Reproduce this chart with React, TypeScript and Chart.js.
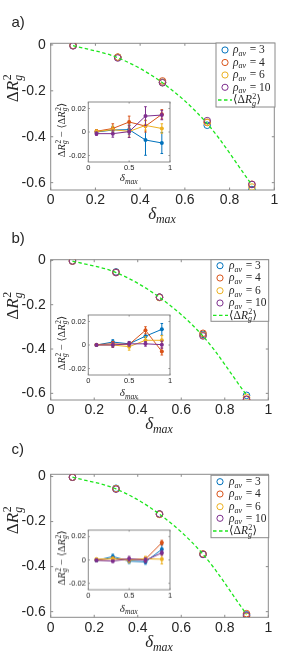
import React, { useEffect, useRef } from "react";
import { Chart, registerables } from "chart.js";
Chart.register(...registerables);

// ---------------- data ----------------
const deltaMax = [0.1, 0.3, 0.5, 0.7, 0.9];
const rhoLabels = ["3", "4", "6", "10"];

const mainXTicks = [0, 0.2, 0.4, 0.6, 0.8, 1];
const mainXTickLabels = ["0", "0.2", "0.4", "0.6", "0.8", "1"];
const mainYTicks = [-0.6, -0.4, -0.2, 0];
const mainYTickLabels = ["-0.6", "-0.4", "-0.2", "0"];
const insetXTicks = [0, 0.5, 1];
const insetXTickLabels = ["0", "0.5", "1"];
const insetYTicks = [-0.02, 0, 0.02];
const insetYTickLabels = ["-0.02", "0", "0.02"];

// panel a
const meanA = [-0.003, -0.056, -0.165, -0.343, -0.61];
const rhoA3 = [-0.003, -0.054, -0.163, -0.35, -0.63];
const rhoA4 = [-0.002, -0.053, -0.157, -0.338, -0.607];
const rhoA6 = [-0.003, -0.054, -0.164, -0.337, -0.619];
const rhoA10 = [-0.004, -0.057, -0.165, -0.33, -0.608];
const devA3 = [0.0, 0.0017, 0.002, -0.0068, -0.0093];
const devA4 = [0.0006, 0.003, 0.0085, 0.005, 0.015];
const devA6 = [0.0003, 0.002, 0.0005, 0.0056, 0.003];
const devA10 = [-0.0014, -0.0014, 0.0003, 0.0135, 0.0144];
const errA3 = [0.0015, 0.003, 0.004, 0.013, 0.009];
const errA4 = [0.0015, 0.004, 0.005, 0.005, 0.004];
const errA6 = [0.0015, 0.003, 0.005, 0.004, 0.004];
const errA10 = [0.0015, 0.003, 0.005, 0.008, 0.004];

// panel b
const meanB = [-0.003, -0.055, -0.167, -0.342, -0.608];
const rhoB3 = [-0.003, -0.052, -0.166, -0.334, -0.609];
const rhoB4 = [-0.003, -0.054, -0.166, -0.329, -0.628];
const rhoB6 = [-0.003, -0.055, -0.168, -0.338, -0.618];
const rhoB10 = [-0.003, -0.055, -0.166, -0.341, -0.626];
const devB3 = [0.0, 0.0025, 0.001, 0.0075, 0.0133];
const devB4 = [0.0003, 0.001, 0.0005, 0.0125, -0.0055];
const devB6 = [0.0, 0.0, -0.0014, 0.004, 0.004];
const devB10 = [0.0, 0.0, 0.001, 0.001, 0.0003];
const errB3 = [0.001, 0.002, 0.002, 0.004, 0.005];
const errB4 = [0.001, 0.002, 0.002, 0.003, 0.003];
const errB6 = [0.001, 0.002, 0.003, 0.003, 0.004];
const errB10 = [0.001, 0.002, 0.002, 0.002, 0.003];

// panel c
const meanC = [-0.003, -0.055, -0.167, -0.345, -0.612];
const rhoC3 = [-0.003, -0.052, -0.167, -0.346, -0.614];
const rhoC4 = [-0.003, -0.054, -0.167, -0.344, -0.609];
const rhoC6 = [-0.003, -0.054, -0.168, -0.344, -0.621];
const rhoC10 = [-0.003, -0.056, -0.166, -0.345, -0.618];
const devC3 = [-0.0005, 0.0028, -0.001, -0.0017, 0.009];
const devC4 = [0.0, 0.001, 0.0003, 0.0006, 0.0147];
const devC6 = [0.0006, 0.001, -0.0003, 0.001, 0.0006];
const devC10 = [-0.0003, -0.001, 0.001, -0.0003, 0.006];
const errC3 = [0.001, 0.002, 0.002, 0.002, 0.004];
const errC4 = [0.001, 0.001, 0.001, 0.002, 0.002];
const errC6 = [0.001, 0.001, 0.002, 0.002, 0.004];
const errC10 = [0.001, 0.001, 0.002, 0.002, 0.002];

// ---------------- styles ----------------
const COLORS = ["#0072BD", "#D95319", "#EDB120", "#7E2F8E"];
const CURVE_COLOR = "#1ee61e";
const AXIS_GRAY = "#8a8a8a";
const TEXT = "#262626";
const SANS = '"Liberation Sans", Arial, sans-serif';
const SERIF = '"Liberation Serif", "DejaVu Serif", serif';
const W = 286;

const panels = [
  {
    label: "a)", canvasTop: 0, canvasH: 223,
    L: 50.7, R: 274.3, T: 43.3, B: 190, yMin: -0.632, yMax: 0.007,
    labelY: 23, yTitleY: 88, xTitleY: 214,
    legend: { l: 216, t: 43, r: 275, b: 107, rows: [50, 62.5, 75, 87.3, 100], mx: 225, tx: 233 },
    inset: { L: 88.3, R: 170.7, T: 100.7, B: 162.3, xTitleDy: 16 },
    curve: meanA, main: [rhoA3, rhoA4, rhoA6, rhoA10],
    dev: [devA3, devA4, devA6, devA10], err: [errA3, errA4, errA6, errA10],
  },
  {
    label: "b)", canvasTop: 223, canvasH: 223,
    L: 50.7, R: 268.3, T: 259.7, B: 400, yMin: -0.63, yMax: 0.003,
    labelY: 239, yTitleY: 305.5, xTitleY: 424,
    legend: { l: 211, t: 259.7, r: 268.7, b: 321.3, rows: [265.7, 278, 290.7, 303, 315.3], mx: 220, tx: 229 },
    inset: { L: 88.3, R: 170.7, T: 313.7, B: 374.7, xTitleDy: 18 },
    curve: meanB, main: [rhoB3, rhoB4, rhoB6, rhoB10],
    dev: [devB3, devB4, devB6, devB10], err: [errB3, errB4, errB6, errB10],
  },
  {
    label: "c)", canvasTop: 430, canvasH: 239,
    L: 50.7, R: 268.3, T: 474.3, B: 617.3, yMin: -0.625, yMax: 0.01,
    labelY: 450, yTitleY: 520, xTitleY: 642,
    legend: { l: 211, t: 475.3, r: 268.7, b: 537.7, rows: [481.7, 494, 506.7, 518.3, 531], mx: 220, tx: 229 },
    inset: { L: 88.3, R: 170.7, T: 529.3, B: 590, xTitleDy: 18.5 },
    curve: meanC, main: [rhoC3, rhoC4, rhoC6, rhoC10],
    dev: [devC3, devC4, devC6, devC10], err: [errC3, errC4, errC6, errC10],
  },
];

// ---------------- rich text ----------------
type Seg = { t?: string; it?: boolean; sup?: string; sub?: string; subIt?: boolean };
const fnt = (size: number, it?: boolean) => `${it ? "italic " : ""}${size}px ${SERIF}`;

function richWidth(ctx: CanvasRenderingContext2D, segs: Seg[], size: number) {
  let w = 0;
  for (const s of segs) {
    if (s.t) { ctx.font = fnt(size, s.it); w += ctx.measureText(s.t).width; }
    if (s.sup || s.sub) {
      const ss = size * 0.7; let a = 0, b = 0;
      if (s.sup) { ctx.font = fnt(ss, false); a = ctx.measureText(s.sup).width; }
      if (s.sub) { ctx.font = fnt(ss, s.subIt); b = ctx.measureText(s.sub).width; }
      w += Math.max(a, b) + size * 0.06;
    }
  }
  return w;
}

function drawRich(ctx: CanvasRenderingContext2D, segs: Seg[], x: number, y: number, size: number,
  align: "left" | "center", rotate: boolean) {
  ctx.save();
  ctx.translate(x, y);
  if (rotate) ctx.rotate(-Math.PI / 2);
  ctx.fillStyle = TEXT;
  ctx.textAlign = "left";
  ctx.textBaseline = "alphabetic";
  const w = richWidth(ctx, segs, size);
  let cx = align === "center" ? -w / 2 : 0;
  const base = size * 0.3;
  for (const s of segs) {
    if (s.t) {
      ctx.font = fnt(size, s.it);
      ctx.fillText(s.t, cx, base);
      cx += ctx.measureText(s.t).width;
    }
    if (s.sup || s.sub) {
      const ss = size * 0.7; let a = 0, b = 0;
      if (s.sup) { ctx.font = fnt(ss, false); ctx.fillText(s.sup, cx + size * 0.04, base - size * 0.4); a = ctx.measureText(s.sup).width; }
      if (s.sub) { ctx.font = fnt(ss, s.subIt); ctx.fillText(s.sub, cx, base + size * 0.22); b = ctx.measureText(s.sub).width; }
      cx += Math.max(a, b) + size * 0.06;
    }
  }
  ctx.restore();
}

const RG: Seg[] = [{ t: "Δ" }, { t: "R", it: true }, { sup: "2", sub: "g", subIt: true }];
const DMAX: Seg[] = [{ t: "δ", it: true }, { sub: "max", subIt: true }];
const MEANRG: Seg[] = [{ t: "⟨Δ" }, { t: "R", it: true }, { sup: "2", sub: "g", subIt: true }, { t: "⟩" }];
const INSET_Y: Seg[] = [...RG, { t: " − " }, ...MEANRG];
const rhoSeg = (v: string): Seg[] => [{ t: "ρ", it: true }, { sub: "av", subIt: true }, { t: " = " + v }];

// ---------------- helpers ----------------
function drawFrame(chart: any, xt: number[], yt: number[], tl: number) {
  const ctx = chart.ctx as CanvasRenderingContext2D;
  const a = chart.chartArea;
  const xs = chart.scales.x, ys = chart.scales.y;
  ctx.save();
  ctx.strokeStyle = AXIS_GRAY;
  ctx.lineWidth = 1;
  ctx.strokeRect(a.left, a.top, a.right - a.left, a.bottom - a.top);
  ctx.beginPath();
  for (const v of xt) {
    const x = xs.getPixelForValue(v);
    ctx.moveTo(x, a.bottom); ctx.lineTo(x, a.bottom - tl);
    ctx.moveTo(x, a.top); ctx.lineTo(x, a.top + tl);
  }
  for (const v of yt) {
    const y = ys.getPixelForValue(v);
    ctx.moveTo(a.left, y); ctx.lineTo(a.left + tl, y);
    ctx.moveTo(a.right, y); ctx.lineTo(a.right - tl, y);
  }
  ctx.stroke();
  ctx.restore();
}

function axisOpts(min: number, max: number, vals: number[], labels: string[], size: number, pad: number, fit: (a: any) => void) {
  return {
    type: "linear",
    min, max,
    grid: { display: false, drawTicks: false },
    border: { display: false },
    ticks: {
      padding: pad,
      color: TEXT,
      font: { family: SANS, size },
      autoSkip: false,
      maxRotation: 0,
      callback: (v: number) => {
        const i = vals.findIndex((t) => Math.abs(t - v) < 1e-9);
        return i >= 0 ? labels[i] : "";
      },
    },
    afterBuildTicks: (a: any) => { a.ticks = vals.map((v) => ({ value: v })); },
    afterFit: fit,
  };
}

function mainConfig(p: any) {
  const H = p.canvasH, top = p.canvasTop;
  const T = p.T - top, B = p.B - top;
  const order = [3, 2, 1, 0];
  const datasets: any[] = [
    {
      data: deltaMax.map((x, i) => ({ x, y: p.curve[i] })),
      borderColor: CURVE_COLOR, borderWidth: 1.3, borderDash: [3.5, 2.5],
      pointRadius: 0, showLine: true, cubicInterpolationMode: "monotone", fill: false,
    },
    ...order.map((k) => ({
      data: deltaMax.map((x, i) => ({ x, y: p.main[k][i] })),
      showLine: false,
      borderColor: COLORS[k], backgroundColor: "rgba(0,0,0,0)",
      pointRadius: 3.3, pointBorderWidth: 1,
      pointBorderColor: COLORS[k], pointBackgroundColor: "rgba(0,0,0,0)",
    })),
  ];
  const deco = {
    id: "deco",
    beforeDatasetsDraw(chart: any) { drawFrame(chart, mainXTicks, mainYTicks, 2.5); },
    afterDraw(chart: any) {
      const ctx = chart.ctx as CanvasRenderingContext2D;
      const a = chart.chartArea;
      // panel label
      ctx.save();
      ctx.fillStyle = TEXT; ctx.font = `15px ${SANS}`;
      ctx.textBaseline = "middle"; ctx.textAlign = "left";
      ctx.fillText(p.label, 11.5, p.labelY - top);
      ctx.restore();
      // axis titles
      drawRich(ctx, DMAX, (a.left + a.right) / 2, p.xTitleY - top, 17, "center", false);
      drawRich(ctx, RG, 13, p.yTitleY - top, 17, "center", true);
      // legend
      const lg = p.legend;
      ctx.save();
      ctx.fillStyle = "#ffffff";
      ctx.fillRect(lg.l, lg.t - top, lg.r - lg.l, lg.b - lg.t);
      ctx.strokeStyle = AXIS_GRAY; ctx.lineWidth = 1;
      ctx.strokeRect(lg.l, lg.t - top, lg.r - lg.l, lg.b - lg.t);
      for (let k = 0; k < 4; k++) {
        const y = lg.rows[k] - top;
        ctx.beginPath();
        ctx.arc(lg.mx, y, 3.1, 0, Math.PI * 2);
        ctx.strokeStyle = COLORS[k]; ctx.lineWidth = 1;
        ctx.stroke();
        drawRich(ctx, rhoSeg(rhoLabels[k]), lg.tx, y, 11.5, "left", false);
      }
      const y5 = lg.rows[4] - top;
      ctx.beginPath();
      ctx.setLineDash([3.5, 2.5]);
      ctx.strokeStyle = CURVE_COLOR; ctx.lineWidth = 1.3;
      ctx.moveTo(lg.l + 2, y5); ctx.lineTo(lg.tx - 1, y5);
      ctx.stroke();
      ctx.setLineDash([]);
      ctx.restore();
      drawRich(ctx, MEANRG, lg.tx, y5, 11.5, "left", false);
    },
  };
  return {
    type: "line",
    data: { datasets },
    options: {
      animation: false, responsive: false, maintainAspectRatio: false,
      devicePixelRatio: 1, events: [],
      layout: { padding: { left: 0, top: T, right: W - p.R, bottom: 0 } },
      plugins: { legend: { display: false }, tooltip: { enabled: false }, title: { display: false } },
      scales: {
        x: axisOpts(0, 1, mainXTicks, mainXTickLabels, 14, 2, (ax: any) => { ax.height = H - B; }),
        y: axisOpts(p.yMin, p.yMax, mainYTicks, mainYTickLabels, 14, 5, (ax: any) => { ax.width = p.L; }),
      },
    },
    plugins: [deco],
  };
}

const INSET_CX = 50;
const INSET_W = 124;
const INSET_PAD_TOP = 6;
const INSET_EXTRA = 28;

function insetConfig(p: any) {
  const ins = p.inset;
  const H = ins.B - ins.T + INSET_PAD_TOP + INSET_EXTRA;
  const B = INSET_PAD_TOP + (ins.B - ins.T);
  const L = ins.L - INSET_CX, R = ins.R - INSET_CX;
  const order = [3, 2, 1, 0];
  const datasets: any[] = order.map((k) => ({
    data: deltaMax.map((x, i) => ({ x, y: p.dev[k][i] })),
    showLine: true, borderColor: COLORS[k], borderWidth: 1, fill: false,
    pointRadius: 2, pointBorderWidth: 0,
    pointBackgroundColor: COLORS[k], pointBorderColor: COLORS[k],
  }));
  const errs = order.map((k) => p.err[k]);
  const deco = {
    id: "insetDeco",
    beforeDraw(chart: any) {
      const a = chart.chartArea; const ctx = chart.ctx;
      ctx.save(); ctx.fillStyle = "#ffffff";
      ctx.fillRect(a.left, a.top, a.right - a.left, a.bottom - a.top);
      ctx.restore();
    },
    beforeDatasetsDraw(chart: any) { drawFrame(chart, insetXTicks, insetYTicks, 1.5); },
    afterDatasetDraw(chart: any, args: any) {
      const ctx = chart.ctx as CanvasRenderingContext2D;
      const ys = chart.scales.y;
      const ds = chart.data.datasets[args.index];
      const e = errs[args.index];
      ctx.save();
      ctx.strokeStyle = ds.borderColor; ctx.lineWidth = 1;
      ctx.beginPath();
      args.meta.data.forEach((pt: any, i: number) => {
        const v = ds.data[i].y;
        const y1 = ys.getPixelForValue(v + e[i]);
        const y2 = ys.getPixelForValue(v - e[i]);
        ctx.moveTo(pt.x, y1); ctx.lineTo(pt.x, y2);
        ctx.moveTo(pt.x - 1.3, y1); ctx.lineTo(pt.x + 1.3, y1);
        ctx.moveTo(pt.x - 1.3, y2); ctx.lineTo(pt.x + 1.3, y2);
      });
      ctx.stroke();
      ctx.restore();
    },
    afterDraw(chart: any) {
      const ctx = chart.ctx as CanvasRenderingContext2D;
      const a = chart.chartArea;
      drawRich(ctx, DMAX, (a.left + a.right) / 2, a.bottom + ins.xTitleDy, 11, "center", false);
      drawRich(ctx, INSET_Y, a.left - 26.6, (a.top + a.bottom) / 2 - 2, 10.5, "center", true);
    },
  };
  return {
    type: "line",
    data: { datasets },
    options: {
      animation: false, responsive: false, maintainAspectRatio: false,
      devicePixelRatio: 1, events: [],
      layout: { padding: { left: 0, top: INSET_PAD_TOP, right: INSET_W - R, bottom: 0 } },
      plugins: { legend: { display: false }, tooltip: { enabled: false }, title: { display: false } },
      scales: {
        x: axisOpts(0, 1, insetXTicks, insetXTickLabels, 7.5, 1.5, (ax: any) => { ax.height = H - B; }),
        y: axisOpts(-0.0255, 0.0255, insetYTicks, insetYTickLabels, 7.5, 2.5, (ax: any) => { ax.width = L; }),
      },
    },
    plugins: [deco],
  };
}

function Panel({ p }: { p: any }) {
  const mainRef = useRef<HTMLCanvasElement>(null);
  const insetRef = useRef<HTMLCanvasElement>(null);
  const ins = p.inset;
  const insetH = ins.B - ins.T + INSET_PAD_TOP + INSET_EXTRA;
  useEffect(() => {
    const c1 = new Chart(mainRef.current as HTMLCanvasElement, mainConfig(p) as any);
    const c2 = new Chart(insetRef.current as HTMLCanvasElement, insetConfig(p) as any);
    return () => { c1.destroy(); c2.destroy(); };
  }, []);
  return (
    <>
      <canvas ref={mainRef} width={W} height={p.canvasH}
        style={{ position: "absolute", left: 0, top: p.canvasTop, width: W, height: p.canvasH }} />
      <canvas ref={insetRef} width={INSET_W} height={insetH}
        style={{ position: "absolute", left: INSET_CX, top: ins.T - INSET_PAD_TOP, width: INSET_W, height: insetH }} />
    </>
  );
}

export default function App() {
  return (
    <div style={{ position: "absolute", left: 0, top: 0, width: 286, height: 669, background: "#ffffff", overflow: "hidden" }}>
      {panels.map((p, i) => <Panel key={i} p={p} />)}
    </div>
  );
}
